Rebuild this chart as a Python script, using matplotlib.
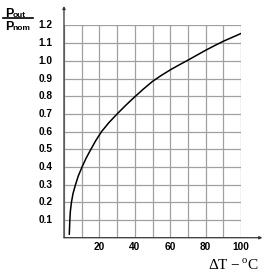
import matplotlib
matplotlib.use('Agg')
import matplotlib.pyplot as plt

# curve
dt = [3.0, 3.3, 3.6, 4.2, 5.1, 6.5, 8.1, 10.2, 12.5, 15.2, 18.0, 21.2, 25.3, 30, 35, 40,
      45, 50, 55, 60, 65, 70, 75, 80, 85, 90, 95, 100]
ratio = [0.02, 0.1, 0.15, 0.2, 0.25, 0.3, 0.35, 0.4, 0.45, 0.5, 0.55, 0.6, 0.65, 0.7, 0.75, 0.797,
         0.842, 0.884, 0.918, 0.949, 0.977, 1.004, 1.032, 1.06, 1.086, 1.111, 1.133, 1.155]

xticks = [20, 40, 60, 80, 100]
yticks = [0.1, 0.2, 0.3, 0.4, 0.5, 0.6, 0.7, 0.8, 0.9, 1.0, 1.1, 1.2]
ylabels = ['0.1', '0.2', '0.3', '0.4', '0.5', '0.6', '0.7', '0.8', '0.9', '1.0', '1.1', '1.2']

plt.rcParams['font.family'] = ['Liberation Sans', 'DejaVu Sans']
plt.rcParams['mathtext.fontset'] = 'custom'
plt.rcParams['mathtext.rm'] = 'Liberation Serif'

fig = plt.figure(figsize=(2.7, 2.8), dpi=100)
ax = fig.add_axes([0.237, 0.151, 0.656, 0.758])

ax.set_xlim(0, 100)
ax.set_ylim(0, 1.2)
ax.set_xticks(range(0, 101, 10))
ax.set_yticks([i / 10 for i in range(13)])
ax.grid(True, color='#a0a0a0', linewidth=0.9)
ax.tick_params(length=0, labelleft=False, labelbottom=False)
for s in ax.spines.values():
    s.set_visible(False)

ax.plot(dt, ratio, color='black', linewidth=1.1)

for v in xticks:
    ax.text(v, -0.055, str(v), ha='center', va='center', fontsize=7.3, fontweight='bold')
for v, l in zip(yticks, ylabels):
    ax.text(-6.5, v, l, ha='right', va='center', fontsize=7.3, fontweight='bold')

# axes with small arrow heads
ax.annotate('', xy=(0, 1.31), xytext=(0, 0), xycoords='data', annotation_clip=False,
            arrowprops=dict(arrowstyle='-|>', color='#333333', lw=0.9, mutation_scale=4,
                            shrinkA=0, shrinkB=0))
ax.annotate('', xy=(112, 0), xytext=(0, 0), xycoords='data', annotation_clip=False,
            arrowprops=dict(arrowstyle='-|>', color='#333333', lw=0.9, mutation_scale=4,
                            shrinkA=0, shrinkB=0))

# P_out / P_nom
fig.text(0.0185, 0.941, 'P', fontsize=9, fontweight='bold', ha='left', va='baseline')
fig.text(0.047, 0.941, 'out', fontsize=6, fontweight='bold', ha='left', va='baseline')
fig.add_artist(plt.Line2D([0.012, 0.122], [0.9346, 0.9346], color='black', lw=1.2,
                          transform=fig.transFigure))
fig.text(0.0185, 0.894, 'P', fontsize=9, fontweight='bold', ha='left', va='baseline')
fig.text(0.047, 0.894, 'nom', fontsize=6, fontweight='bold', ha='left', va='baseline')

fig.text(0.96, 0.053, r'$\Delta\mathrm{T}-^{\mathrm{o}}\mathrm{C}$', fontsize=11,
         ha='right', va='center')

plt.savefig('out.png', dpi=100)
